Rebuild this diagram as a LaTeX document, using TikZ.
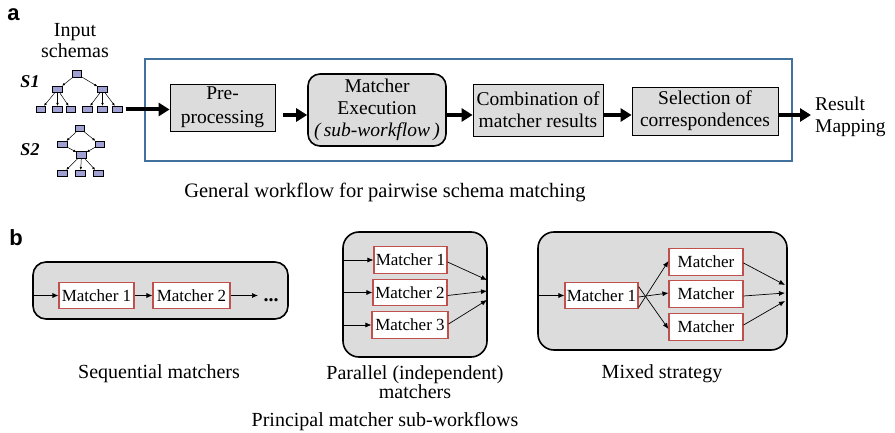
\documentclass[tikz,border=0pt]{standalone}
\usepackage{fontspec}
\setmainfont{Liberation Serif}
\newfontfamily\libserif{Liberation Serif}
\newfontfamily\labfont{Liberation Sans}
\usetikzlibrary{arrows.meta}
\definecolor{boxgray}{HTML}{DCDCDC}
\definecolor{frameblue}{HTML}{41719C}
\definecolor{redb}{HTML}{C0504D}
\definecolor{lav}{HTML}{A0A0D2}
\begin{document}
\begin{tikzpicture}[x=1pt,y=-1pt,
  stepbox/.style={draw, fill=boxgray, line width=0.8pt, inner sep=0pt, align=center, font=\libserif\fontsize{19.5}{22}\selectfont},
  matchbox/.style={draw=redb, fill=white, line width=1.1pt, inner sep=0pt, minimum height=26.5pt, font=\libserif\fontsize{17}{20}\selectfont},
  groupbox/.style={draw, fill=boxgray, line width=1.6pt, rounded corners=13pt, inner sep=0pt},
  bigarrow/.style={line width=4pt, -{Triangle[length=11pt,width=13pt]}},
  thinarrow/.style={line width=0.7pt, -{Latex[length=6pt,width=5pt]}},
  treebox/.style={draw, fill=lav, line width=0.8pt, minimum width=9.5pt, minimum height=6.5pt, inner sep=0pt},
  treearrow/.style={line width=0.5pt, -{Latex[length=3pt,width=2.6pt]}},
  caption/.style={font=\libserif\fontsize{20}{19}\selectfont, anchor=base, align=center},
  panellabel/.style={font=\labfont\bfseries\fontsize{22}{22}\selectfont}
]
\useasboundingbox (0,0) rectangle (895,433);

% ---------- panel a ----------
\node[panellabel] (la) at (13.5,15) {a};
\node[font=\libserif\fontsize{20}{21}\selectfont, align=center] (inp) at (75,41) {Input\\schemas};
\node[font=\libserif\bfseries\itshape\fontsize{18}{18}\selectfont] (s1) at (30,82) {S1};
\node[font=\libserif\bfseries\itshape\fontsize{18}{18}\selectfont] (s2) at (30,150) {S2};

% tree S1
\node[treebox] (r1) at (77,74) {};
\node[treebox] (m1a) at (57.5,89.5) {};
\node[treebox] (m1b) at (102.5,89.5) {};
\foreach \i/\x in {1/41,2/57.5,3/71,4/87.5,5/102.5,6/117.5}
  \node[treebox] (l1\i) at (\x,109.5) {};
\draw[treearrow] (r1) -- (m1a);
\draw[treearrow] (r1) -- (m1b);
\foreach \i in {1,2,3} \draw[treearrow] (m1a) -- (l1\i);
\foreach \i in {4,5,6} \draw[treearrow] (m1b) -- (l1\i);

% tree S2
\node[treebox] (r2) at (80,128.5) {};
\node[treebox] (m2a) at (62.5,144.5) {};
\node[treebox] (m2b) at (100,144.5) {};
\node[treebox] (m2c) at (81.5,155) {};
\foreach \i/\x in {1/62.5,2/80.5,3/98.5}
  \node[treebox] (l2\i) at (\x,173.5) {};
\draw[treearrow] (r2) -- (m2a);
\draw[treearrow] (r2) -- (m2b);
\draw[treearrow] (m2a) -- (m2c);
\draw[treearrow] (m2b) -- (m2c);
\foreach \i in {1,2,3} \draw[treearrow] (m2c) -- (l2\i);

% workflow frame
\node[draw=frameblue, line width=1.3pt, minimum width=647pt, minimum height=102pt, inner sep=0pt] (frame) at (468.5,110) {};

\node[stepbox, minimum width=105pt, minimum height=47pt, font=\libserif\fontsize{19.5}{24}\selectfont] (pre) at (222.5,107.5) {Pre-\\processing};
\node[stepbox, minimum width=138pt, minimum height=72pt, rounded corners=12pt, line width=1.6pt] (mex) at (377,110) {Matcher\\Execution\\\textit{(\,sub-workflow\,)}};
\node[stepbox, minimum width=130pt, minimum height=52pt] (comb) at (538,110) {Combination of\\matcher results};
\node[stepbox, minimum width=146pt, minimum height=48pt] (sel) at (705,111) {Selection of\\correspondences};
\node[font=\libserif\fontsize{19.5}{22}\selectfont, align=left, anchor=west, inner sep=0pt] (res) at (815,117) {Result\\Mapping};

\coordinate (inA) at ([xshift=3pt]l16.east);
\draw[bigarrow] (inA) -- (pre.west |- inA);
\draw[bigarrow] ([xshift=8pt]pre.east |- 0,115) -- (mex.west |- 0,115);
\draw[bigarrow] (mex.east |- 0,115) -- (comb.west |- 0,115);
\draw[bigarrow] (comb.east |- 0,115) -- (sel.west |- 0,115);
\draw[bigarrow] (sel.east |- 0,115) -- ([xshift=-4pt]res.west |- 0,115);

\node[caption, font=\libserif\fontsize{20.5}{24}\selectfont] (capa) at (385,197) {General workflow for pairwise schema matching};

% ---------- panel b ----------
\node[panellabel] (lb) at (16,237.5) {b};

% sequential
\node[groupbox, minimum width=255pt, minimum height=57pt] (seq) at (160.5,290.5) {};
\node[matchbox, minimum width=75pt] (q1) at (96.5,295.5) {Matcher 1};
\node[matchbox, minimum width=77pt] (q2) at (191.5,295.5) {Matcher 2};
\node[font=\libserif\bfseries\fontsize{20}{20}\selectfont, anchor=base] (dots) at (271,301) {...};
\coordinate (qend) at (258,295.5);
\draw[thinarrow] (seq.west |- q1) -- (q1.west);
\draw[thinarrow] (q1) -- (q2);
\draw[thinarrow] (q2.east) -- (qend);
\node[caption] (capseq) at (159,378) {Sequential matchers};

% parallel
\node[groupbox, minimum width=144pt, minimum height=125pt, rounded corners=16pt] (par) at (415,294.5) {};
\node[matchbox, minimum width=73pt] (p1) at (410.5,260) {Matcher 1};
\node[matchbox, minimum width=74pt] (p2) at (410,292.5) {Matcher 2};
\node[matchbox, minimum width=76pt] (p3) at (410,325) {Matcher 3};
\foreach \p in {p1,p2,p3} \draw[thinarrow] (par.west |- \p) -- (\p.west);
\coordinate (po1) at (487,280);
\coordinate (po2) at (487,291);
\coordinate (po3) at (487,300);
\draw[thinarrow] ([yshift=-2pt]p1.east) -- (po1);
\draw[thinarrow] ([yshift=-3pt]p2.east) -- (po2);
\draw[thinarrow] ([yshift=1pt]p3.east) -- (po3);
\node[caption, anchor=center] (cappar) at (415,382) {Parallel (independent)\\matchers};

% mixed
\node[groupbox, minimum width=249pt, minimum height=118pt, rounded corners=16pt] (mix) at (662.5,291) {};
\node[matchbox, minimum width=73pt] (x1) at (601.5,295.5) {Matcher 1};
\node[matchbox, minimum width=74pt] (xa) at (706,262) {Matcher};
\node[matchbox, minimum width=74pt] (xb) at (706,294) {Matcher};
\node[matchbox, minimum width=74pt] (xc) at (706,327) {Matcher};
\draw[thinarrow] (mix.west |- x1) -- (x1.west);
\draw[thinarrow] ([yshift=-12pt]x1.east) -- ([yshift=1pt]xa.west);
\draw[thinarrow] ([yshift=-1.5pt]x1.east) -- ([yshift=1pt]xb.west);
\draw[thinarrow] ([yshift=9pt]x1.east) -- ([yshift=-2pt]xc.west);
\coordinate (xo1) at (785,285);
\coordinate (xo2) at (785,293);
\coordinate (xo3) at (785,301);
\draw[thinarrow] ([yshift=-1pt]xa.east) -- (xo1);
\draw[thinarrow] ([yshift=-2pt]xb.east) -- (xo2);
\draw[thinarrow] ([yshift=2pt]xc.east) -- (xo3);
\node[caption] (capmix) at (662,378) {Mixed strategy};

\node[caption] (capb) at (385,426) {Principal matcher sub-workflows};
\end{tikzpicture}
\end{document}
